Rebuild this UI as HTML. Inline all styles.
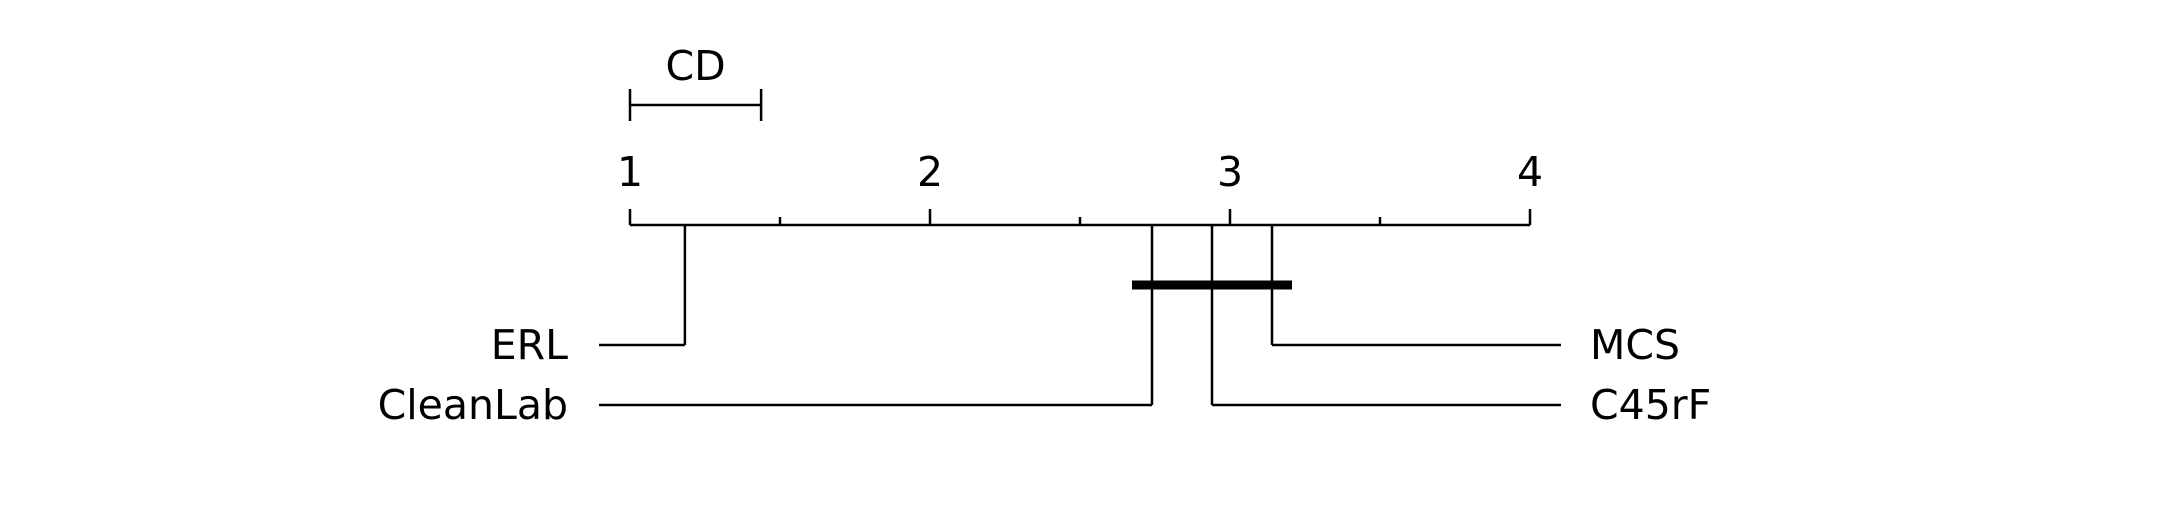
<!DOCTYPE html>
<html><head><meta charset="utf-8"><style>
html,body{margin:0;padding:0;background:#fff;}
svg{display:block;}
text{font-family:"DejaVu Sans","Liberation Sans",sans-serif;font-size:41px;fill:#000;}
</style></head><body>
<svg id="chart" width="2160" height="525" viewBox="0 0 2160 525" xmlns="http://www.w3.org/2000/svg"></svg>
<script>
const methods = ["ERL", "CleanLab", "C45rF", "MCS"];
const ranks = [1.183, 2.74, 2.94, 3.14];
const tickLabels = [1, 2, 3, 4];
const cdValue = 0.437;
const cliques = [[2.74, 3.14]];

const NS = "http://www.w3.org/2000/svg";
const svg = document.getElementById("chart");
const x0 = 630, unit = 300, axisY = 225;
const x = r => x0 + (r - 1) * unit;
function el(tag, attrs, name) {
  const e = document.createElementNS(NS, tag);
  for (const k in attrs) e.setAttribute(k, attrs[k]);
  
  
  svg.appendChild(e);
  return e;
}
function line(x1, y1, x2, y2, w, name) {
  return el("line", {x1, y1, x2, y2, stroke: "#000", "stroke-width": w}, name);
}
line(x(1), axisY, x(4), axisY, 2.5, "rank-axis");
for (let v = 1; v <= 4.001; v += 0.5) {
  const major = Math.abs(v - Math.round(v)) < 1e-6;
  line(x(v), axisY, x(v), major ? 209 : 217, 2.5, major ? "major-tick" : "minor-tick");
}
tickLabels.forEach(t => {
  const tx = el("text", {x: x(t), y: 186, "text-anchor": "middle"}, "tick-label-" + t);
  tx.textContent = t;
});
line(x(1), 105, x(1 + cdValue), 105, 2.5, "cd-bar");
line(x(1), 89, x(1), 121, 2.5, "cd-bar-left-cap");
line(x(1 + cdValue), 89, x(1 + cdValue), 121, 2.5, "cd-bar-right-cap");
const cdt = el("text", {x: (x(1) + x(1 + cdValue)) / 2, y: 80, "text-anchor": "middle"}, "cd-label");
cdt.textContent = "CD";
const n = methods.length, half = Math.ceil(n / 2);
methods.forEach((m, i) => {
  const rx = x(ranks[i]);
  const left = i < half;
  const row = left ? i : n - 1 - i;
  const y = 345 + row * 60;
  line(rx, axisY, rx, y, 2.5, "connector-" + m.toLowerCase());
  if (left) {
    line(599, y, rx, y, 2.5, "leader-" + m.toLowerCase());
    const t = el("text", {x: 568, y: y + 14, "text-anchor": "end"}, "method-label-" + m.toLowerCase());
    t.textContent = m;
  } else {
    line(rx, y, 1561, y, 2.5, "leader-" + m.toLowerCase());
    const t = el("text", {x: 1590, y: y + 14, "text-anchor": "start"}, "method-label-" + m.toLowerCase());
    t.textContent = m;
  }
});
cliques.forEach((c, i) => {
  line(x(c[0]) - 20, 285 + i * 20, x(c[1]) + 20, 285 + i * 20, 9, "clique-bar");
});
</script>
</body></html>
